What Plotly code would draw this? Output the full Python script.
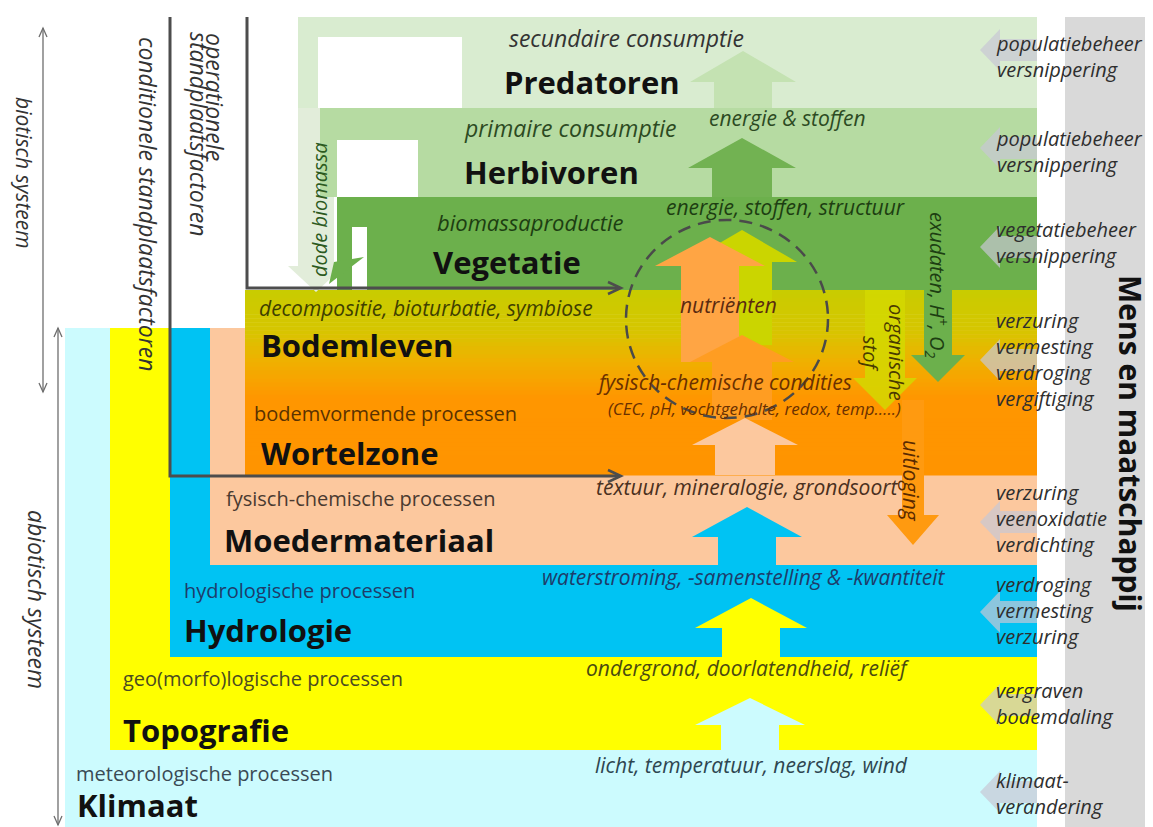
import plotly.graph_objects as go

# ---------------- data (texts of the diagram) ----------------
layers = ["Predatoren", "Herbivoren", "Vegetatie", "Bodemleven", "Wortelzone",
          "Moedermateriaal", "Hydrologie", "Topografie", "Klimaat"]
processes = ["secundaire consumptie", "primaire consumptie", "biomassaproductie",
             "decompositie, bioturbatie, symbiose", "bodemvormende processen",
             "fysisch-chemische processen", "hydrologische processen",
             "geo(morfo)logische processen", "meteorologische processen"]
fluxes = ["energie & stoffen", "energie, stoffen, structuur", "nutriënten",
          "fysisch-chemische condities", "(CEC, pH, vochtgehalte, redox, temp…..)",
          "textuur, mineralogie, grondsoort",
          "waterstroming, -samenstelling & -kwantiteit",
          "ondergrond, doorlatendheid, reliëf",
          "licht, temperatuur, neerslag, wind"]
down_fluxes = ["dode biomassa", "exudaten, H<sup>+</sup>, O<sub>2</sub>",
               "organische<br>stof", "uitloging"]
impacts = [["populatiebeheer", "versnippering"],
           ["populatiebeheer", "versnippering"],
           ["vegetatiebeheer", "versnippering"],
           ["verzuring", "vermesting", "verdroging", "vergiftiging"],
           ["verzuring", "veenoxidatie", "verdichting"],
           ["verdroging", "vermesting", "verzuring"],
           ["vergraven", "bodemdaling"],
           ["klimaat-", "verandering"]]
side_labels = ["biotisch systeem", "abiotisch systeem",
               "conditionele standplaatsfactoren",
               "operationele", "standplaatsfactoren", "Mens en maatschappij"]

# ---------------- styling / geometry ----------------
W, H = 1153, 827
OFF = 8  # default page margin of the browser
FONT = "Open Sans"
shapes = []
ann = []


def rect(x0, y0, x1, y1, color, line=None, opacity=1.0):
    shapes.append(dict(type="rect", xref="x", yref="y", x0=x0, x1=x1, y0=y0, y1=y1,
                       fillcolor=color, opacity=opacity,
                       line=dict(width=0) if line is None else line, layer="below"))


def path(d, color, opacity=1.0, line=None, layer="below"):
    shapes.append(dict(type="path", xref="x", yref="y", path=d, fillcolor=color,
                       opacity=opacity, line=dict(width=0) if line is None else line,
                       layer=layer))


def up_arrow(cx, tip, hb, bottom, hw, sw, color, opacity=1.0):
    d = (f"M{cx-sw},{bottom} L{cx-sw},{hb} L{cx-hw},{hb} L{cx},{tip} "
         f"L{cx+hw},{hb} L{cx+sw},{hb} L{cx+sw},{bottom} Z")
    path(d, color, opacity)


def down_arrow(cx, top, hb, tip, hw, sw, color, opacity=1.0):
    d = (f"M{cx-sw},{top} L{cx-sw},{hb} L{cx-hw},{hb} L{cx},{tip} "
         f"L{cx+hw},{hb} L{cx+sw},{hb} L{cx+sw},{top} Z")
    path(d, color, opacity)


def left_arrow(tipx, cy, hh, sh, headlen, endx, color, opacity):
    d = (f"M{tipx},{cy} L{tipx+headlen},{cy-hh} L{tipx+headlen},{cy-sh} "
         f"L{endx},{cy-sh} L{endx},{cy+sh} L{tipx+headlen},{cy+sh} "
         f"L{tipx+headlen},{cy+hh} Z")
    path(d, color, opacity)


def text(x, y, s, size, color="#111", bold=False, italic=False, xanchor="center",
         angle=0, align="center"):
    if bold:
        s = f"<b>{s}</b>"
    if italic:
        s = f"<i>{s}</i>"
    ann.append(dict(x=x, y=y, xref="x", yref="y", text=s, showarrow=False,
                    xanchor=xanchor, yanchor="middle", textangle=angle, align=align,
                    font=dict(family=FONT, size=size, color=color)))


# grey column
rect(1065, 17, 1153, 827, "#d9d9d9")

# abiotic layers
rect(65, 328, 1037, 827, "#ccfbfe")
rect(110, 328, 1037, 750, "#ffff00")
rect(170, 328, 1037, 657, "#00c3f3")
rect(210, 328, 1037, 565, "#fcc89e")

# gradient Bodemleven -> Wortelzone
stops = [(290, (200, 204, 0)), (330, (214, 198, 0)), (362, (240, 176, 0)),
         (398, (255, 150, 0)), (475, (255, 148, 0))]


def grad(y):
    for (ya, ca), (yb, cb) in zip(stops[:-1], stops[1:]):
        if ya <= y <= yb:
            t = (y - ya) / (yb - ya)
            return tuple(int(round(ca[i] + t * (cb[i] - ca[i]))) for i in range(3))
    return stops[-1][1]


n = 46
for i in range(n):
    y0 = 290 + (475 - 290) * i / n
    y1 = 290 + (475 - 290) * (i + 1) / n
    c = grad((y0 + y1) / 2)
    rect(245, y0, 1037, y1 + 0.6, f"rgb{c}")

# dode biomassa pale arrow
down_arrow(316, 108, 266, 292, 28, 18, "#e2edda")

# biotic layers
rect(298, 17, 1037, 108, "#d9ecd0")
rect(318, 37, 462, 108, "#ffffff")
rect(320, 108, 1037, 197, "#b6dba2")
rect(337, 140, 418, 197, "#ffffff")
rect(337, 197, 1037, 290, "#6cb04c")
rect(352, 227, 367, 290, "#ffffff")
# green bent dode-biomassa arrow head
path("M334,262 L364,257 L329,284 Z", "#6cb04c")

# upward arrows
up_arrow(743, 51, 82, 108, 53, 29, "#c4e2b2")
up_arrow(742, 138, 168, 197, 54, 30, "#72b252")
up_arrow(742, 230, 262, 345, 55, 30, "#cbd500")
up_arrow(710, 237, 266, 362, 55, 29, "#ffa544")
up_arrow(742, 335, 362, 420, 52, 30, "#ff9d22")
up_arrow(745, 418, 445, 475, 53, 30, "#fcc89e")
up_arrow(747, 507, 537, 565, 55, 29, "#00c3f3")
up_arrow(751, 598, 628, 657, 56, 29, "#ffff00")
up_arrow(750, 698, 725, 750, 55, 29, "#ccfbfe")

# downward arrows
down_arrow(938, 197, 355, 382, 27, 14, "#6cb04c")
down_arrow(885, 290, 378, 410, 32, 20, "#d4d800", opacity=0.85)
down_arrow(913, 400, 515, 545, 26, 11, "#ff9a10")

# grey left arrows (human impact)
for cy in [50, 148, 247, 360, 522, 612, 705, 792]:
    left_arrow(980, cy, 21, 11, 20, 1037, "#c8c8d4", 0.7)

# dashed circle
shapes.append(dict(type="circle", xref="x", yref="y", x0=626, x1=828, y0=220, y1=418,
                   line=dict(color="#4a4a4a", width=2.5, dash="13px,8px"),
                   fillcolor="rgba(0,0,0,0)", layer="above"))

# standplaatsfactoren lines
dark = dict(color="#4d4d4d", width=3)
path("M170,17 L170,476 L620,476", "rgba(0,0,0,0)", line=dark, layer="above")
path("M247,17 L247,288 L620,288", "rgba(0,0,0,0)", line=dark, layer="above")
for yy in (476, 288):
    path(f"M608,{yy-6} L621,{yy} L608,{yy+6}", "rgba(0,0,0,0)",
         line=dict(color="#4d4d4d", width=2.5), layer="above")

# system double arrows
thin = dict(color="#6e6e6e", width=1.3)
for x, ya, yb in [(43, 28, 392), (58, 328, 825)]:
    path(f"M{x},{ya} L{x},{yb}", "rgba(0,0,0,0)", line=thin, layer="above")
    path(f"M{x-4},{ya+9} L{x},{ya} L{x+4},{ya+9}", "rgba(0,0,0,0)", line=thin, layer="above")
    path(f"M{x-4},{yb-9} L{x},{yb} L{x+4},{yb-9}", "rgba(0,0,0,0)", line=thin, layer="above")

# ---------------- texts ----------------
BS = 31
# layer titles
title_pos = [(592, 82, "center"), (551, 172, "center"), (507, 262, "center"),
             (259, 345, "left"), (259, 453, "left"), (222, 540, "left"),
             (182, 630, "left"), (121, 730, "left"), (75, 805, "left")]
for name, (x, y, a) in zip(layers, title_pos):
    text(x, y, name, BS, "#111", bold=True, xanchor=a)

# process labels
proc_pos = [(626, 38, "center", True, "#333", 23), (570, 128, "center", True, "#2c4a22", 23),
            (530, 222, "center", True, "#1d3e12", 22), (257, 308, "left", True, "#3f3f00", 21),
            (252, 413, "left", False, "#5a3200", 20), (224, 498, "left", False, "#4a3a30", 20),
            (182, 590, "left", False, "#1e3c6a", 20), (121, 678, "left", False, "#4a4a20", 20),
            (74, 773, "left", False, "#3a4a55", 20)]
for s, (x, y, a, it, col, sz) in zip(processes, proc_pos):
    text(x, y, s, sz, col, italic=it, xanchor=a)

# flux labels
flux_pos = [(787, 118, 21, "#2c4a22"), (785, 207, 21, "#1d3e12"), (728, 305, 21, "#5a2a10"),
            (724, 382, 21, "#6a3000"), (754, 408, 17, "#6a3000"), (747, 487, 21, "#4a3020"),
            (743, 577, 21, "#1e3c6a"), (748, 668, 21, "#4a4a10"), (751, 765, 21, "#2e4650")]
for s, (x, y, sz, col) in zip(fluxes, flux_pos):
    text(x, y, s, sz, col, italic=True)

# down flux labels (rotated)
text(319, 210, down_fluxes[0], 20, "#2c5a1e", italic=True, angle=-90)
text(937, 285, down_fluxes[1], 20, "#1d3e12", italic=True, angle=90)
text(884, 352, down_fluxes[2], 20, "#4a3a00", italic=True, angle=90)
text(911, 481, down_fluxes[3], 21, "#5a2a00", italic=True, angle=90)

# human impacts on the right (one block per layer)
impact_cy = [56, 151, 242, 359, 518, 610, 703, 793]
for lines, cy in zip(impacts, impact_cy):
    text(994, cy, "<br>".join(lines), 20, "#2e2e2e", italic=True, xanchor="left",
         align="left")

# side labels
text(24, 173, side_labels[0], 21, "#333", italic=True, angle=90)
text(37, 599, side_labels[1], 23, "#333", italic=True, angle=90)
text(148, 204, side_labels[2], 23, "#333", italic=True, angle=90)
text(215, 97, side_labels[3], 23, "#333", italic=True, angle=90)
text(199, 134, side_labels[4], 23, "#333", italic=True, angle=90)
text(1131, 443, side_labels[5], 30, "#111", bold=True, angle=90)

fig = go.Figure()
fig.update_layout(
    width=W - OFF, height=H - OFF, margin=dict(l=0, r=0, t=0, b=0),
    paper_bgcolor="white", plot_bgcolor="white",
    xaxis=dict(range=[OFF, W], visible=False, fixedrange=True),
    yaxis=dict(range=[H, OFF], visible=False, fixedrange=True),
    shapes=shapes, annotations=ann, showlegend=False,
)
fig.write_html("out.html")
